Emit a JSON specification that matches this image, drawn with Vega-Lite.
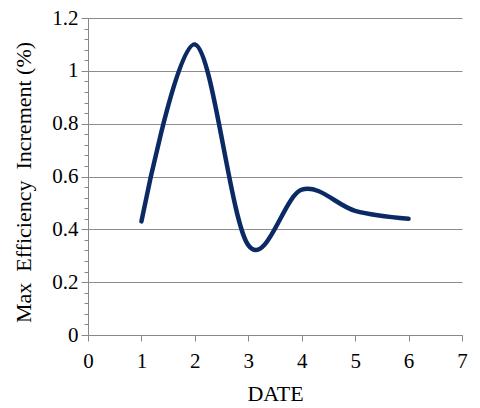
{
  "$schema": "https://vega.github.io/schema/vega-lite/v6.json",
  "autosize": "none",
  "width": 374,
  "height": 317,
  "padding": {"left": 88, "top": 18, "right": 18, "bottom": 73},
  "background": "white",
  "config": {
    "view": {"stroke": null},
    "font": "Liberation Serif",
    "axis": {
      "labelFont": "Liberation Serif",
      "titleFont": "Liberation Serif",
      "labelFontSize": 21,
      "titleFontSize": 22,
      "titleFontWeight": "normal",
      "labelColor": "#000",
      "titleColor": "#000",
      "domainColor": "#888",
      "tickColor": "#888",
      "gridColor": "#8c8c8c",
      "gridWidth": 1.2
    }
  },
  "data": {
    "values": [
      {"date": 1, "value": 0.43},
      {"date": 2, "value": 1.1},
      {"date": 3, "value": 0.34},
      {"date": 4, "value": 0.55},
      {"date": 5, "value": 0.47},
      {"date": 6, "value": 0.44}
    ]
  },
  "layer": [
    {
      "mark": {"type": "line", "opacity": 0},
      "encoding": {
        "x": {
          "field": "date", "type": "quantitative",
          "scale": {"domain": [0, 7], "nice": false},
          "axis": {"values": [0, 1, 2, 3, 4, 5, 6, 7], "grid": false, "tickSize": 6, "labelPadding": 9, "title": "DATE", "titlePadding": 12, "labelFlush": false}
        },
        "y": {
          "field": "value", "type": "quantitative",
          "scale": {"domain": [0, 1.2], "nice": false},
          "axis": {
            "orient": "left",
            "values": [0, 0.04, 0.08, 0.12, 0.16, 0.2, 0.24, 0.28, 0.32, 0.36, 0.4, 0.44, 0.48, 0.52, 0.56, 0.6, 0.64, 0.68, 0.72, 0.76, 0.8, 0.84, 0.88, 0.92, 0.96, 1, 1.04, 1.08, 1.12, 1.16, 1.2],
            "labels": false, "domain": false, "grid": false, "tickSize": 4, "title": null
          }
        }
      }
    },
    {
      "mark": {"type": "line", "interpolate": "cardinal", "tension": 0, "color": "#0b2a63", "strokeWidth": 4.5, "strokeCap": "round"},
      "encoding": {
        "x": {
          "field": "date", "type": "quantitative",
          "scale": {"domain": [0, 7], "nice": false},
          "axis": {"values": [0, 1, 2, 3, 4, 5, 6, 7], "grid": false, "tickSize": 6, "labelPadding": 9, "title": "DATE", "titlePadding": 12, "labelFlush": false}
        },
        "y": {
          "field": "value", "type": "quantitative",
          "scale": {"domain": [0, 1.2], "nice": false},
          "axis": {
            "orient": "left",
            "values": [0, 0.2, 0.4, 0.6, 0.8, 1, 1.2],
            "format": "~g",
            "grid": true, "tickSize": 7, "labelPadding": 3,
            "title": "Max\u00a0\u00a0Efficiency\u00a0\u00a0Increment (%)", "titlePadding": 16,
            "titleY": 164,
            "labelFlush": false
          }
        }
      }
    }
  ],
  "resolve": {"axis": {"y": "independent"}}
}
